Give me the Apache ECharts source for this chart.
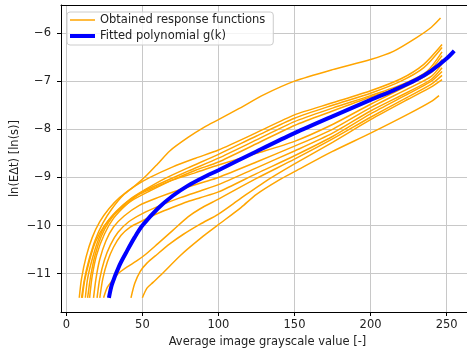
<!DOCTYPE html>
<html>
<head>
<meta charset="utf-8">
<script src="https://cdn.jsdelivr.net/npm/echarts@6/dist/echarts.min.js"></script>
<style>
  html, body { margin: 0; background: #fff; }
  #chart { width: 467px; height: 351px; }
</style>
</head>
<body>
<div id="chart"></div>
<script>
// tick values
const xTicks = [0, 50, 100, 150, 200, 250];
const yTicks = [-11, -10, -9, -8, -7, -6];

// obtained response functions, [grayscale, ln(E*dt)]
const curveA = [[10,-11.5],[12,-11.1],[15,-10.7],[19,-10.3],[24,-9.95],[30,-9.65],[38,-9.35],[46,-9.15],[53,-8.95],[60,-8.72],[68,-8.45],[80,-8.17],[91,-7.95],[100,-7.8],[114,-7.56],[130,-7.28],[150,-7.0],[175,-6.76],[200,-6.55],[215,-6.38],[230,-6.1],[240,-5.88],[246,-5.69]];
const curveU1 = [[8.5,-11.5],[10,-11.1],[13,-10.65],[17,-10.25],[22,-9.92],[28,-9.65],[35,-9.42],[45,-9.18],[55,-9.0],[70,-8.78],[85,-8.6],[100,-8.43],[125,-8.07],[150,-7.7],[175,-7.45],[200,-7.2],[220,-6.95],[235,-6.65],[247,-6.24]];
const curveU2 = [[12.5,-11.5],[14,-11.1],[17,-10.7],[21,-10.3],[26,-9.97],[33,-9.7],[42,-9.45],[52,-9.25],[65,-9.02],[80,-8.8],[100,-8.52],[125,-8.14],[150,-7.77],[175,-7.5],[200,-7.25],[220,-7.0],[235,-6.72],[247,-6.3]];
const curveU3 = [[15.3,-11.5],[17,-11.05],[20,-10.6],[25,-10.18],[31,-9.85],[40,-9.55],[50,-9.3],[65,-9.08],[80,-8.87],[100,-8.6],[125,-8.22],[150,-7.84],[175,-7.56],[200,-7.3],[222,-7.05],[237,-6.8],[247,-6.39]];
const curveU4 = [[10.5,-11.5],[12,-11.15],[15,-10.75],[19,-10.35],[25,-10.0],[32,-9.75],[42,-9.5],[55,-9.28],[70,-9.05],[85,-8.85],[100,-8.68],[125,-8.3],[150,-7.92],[175,-7.62],[200,-7.33],[222,-7.1],[237,-6.85],[247,-6.47]];
const curveL1 = [[14,-11.5],[16,-11.05],[19,-10.6],[23,-10.22],[28,-9.92],[35,-9.65],[45,-9.4],[55,-9.25],[70,-9.05],[85,-8.9],[100,-8.74],[125,-8.5],[150,-8.25],[175,-7.9],[200,-7.48],[225,-7.08],[240,-6.82],[247,-6.55]];
const curveL2 = [[17.9,-11.5],[19.5,-11.1],[22,-10.7],[26,-10.32],[31,-10.03],[38,-9.8],[48,-9.58],[60,-9.42],[75,-9.25],[90,-9.1],[100,-9.0],[125,-8.68],[150,-8.35],[175,-8.0],[200,-7.55],[225,-7.15],[240,-6.9],[247,-6.64]];
const curveL3 = [[20.2,-11.5],[22,-11.1],[25,-10.72],[29,-10.4],[34,-10.14],[41,-9.92],[50,-9.75],[62,-9.58],[75,-9.42],[88,-9.28],[100,-9.15],[125,-8.8],[150,-8.45],[175,-8.08],[200,-7.62],[225,-7.22],[240,-6.96],[247,-6.72]];
const curveL4 = [[22,-11.5],[24,-11.1],[27,-10.75],[31,-10.45],[36,-10.2],[42,-10.03],[50,-9.9],[60,-9.75],[70,-9.62],[80,-9.5],[88,-9.42],[100,-9.3],[125,-8.92],[150,-8.55],[175,-8.15],[200,-7.68],[225,-7.26],[240,-7.0],[247,-6.8]];
const curveL5 = [[24.5,-11.5],[27,-11.28],[30,-11.15],[34,-11.0],[40,-10.86],[46,-10.74],[52,-10.6],[60,-10.38],[70,-10.1],[80,-9.82],[88,-9.65],[100,-9.45],[125,-9.02],[150,-8.62],[175,-8.2],[200,-7.75],[225,-7.32],[240,-7.06],[247,-6.88]];
const curveY = [[42.5,-11.5],[45,-11.2],[48.6,-10.95],[53,-10.78],[59.6,-10.6],[68,-10.38],[77,-10.18],[88,-9.97],[100,-9.76],[114,-9.45],[130,-9.1],[150,-8.72],[175,-8.27],[200,-7.8],[225,-7.37],[240,-7.12],[247,-6.97]];
const curveZ = [[50,-11.5],[53,-11.3],[57,-11.18],[63,-11.0],[75,-10.62],[90,-10.22],[100,-9.98],[115,-9.62],[125,-9.35],[140,-9.05],[150,-8.88],[175,-8.46],[200,-8.08],[225,-7.68],[240,-7.42],[245,-7.3]];
const responseCurves = [curveA, curveU1, curveU2, curveU3, curveU4, curveL1, curveL2, curveL3, curveL4, curveL5, curveY, curveZ];

// fitted polynomial g(k)
const fitted = [[28,-11.5],[30,-11.22],[35,-10.82],[40,-10.52],[45,-10.24],[50,-10.0],[60,-9.65],[70,-9.38],[80,-9.17],[90,-9.0],[100,-8.85],[125,-8.46],[150,-8.08],[175,-7.73],[200,-7.39],[215,-7.19],[230,-6.97],[240,-6.78],[250,-6.53],[255,-6.37]];

const obtainedName = "Obtained response functions";
const fittedName = "Fitted polynomial g(k)";

const chart = echarts.init(document.getElementById("chart"), null, { renderer: "canvas" });

const fmt = (v) => {
  if (Math.abs(v - Math.round(v)) > 1e-6) return "";
  const r = Math.round(v);
  return r < 0 ? "\u2212" + Math.abs(r) : String(r);
};

const font = "DejaVu Sans";
const fontSize = 11.5;

const series = responseCurves.map((c) => ({
  name: obtainedName,
  type: "line",
  data: c,
  symbol: "none",
  smooth: 0.25,
  color: "#ffa500",
  lineStyle: { width: 1.5, color: "#ffa500" },
  z: 2,
}));
series.push({
  name: fittedName,
  type: "line",
  data: fitted,
  symbol: "none",
  smooth: 0.3,
  color: "#0000ff",
  lineStyle: { width: 4, color: "#0000ff" },
  z: 3,
});

chart.setOption({
  animation: false,
  backgroundColor: "#fff",
  grid: {
    left: 61,
    right: -7,
    top: 5,
    bottom: 39,
    outerBoundsMode: "none",
    containLabel: false,
  },
  legend: {
    data: [
      { name: obtainedName, icon: "path://M0,0L50,0L50,3L0,3Z" },
      { name: fittedName, icon: "path://M0,0L25,0L25,4L0,4Z" },
    ],
    orient: "vertical",
    left: 67,
    top: 12,
    itemWidth: 25,
    itemHeight: 14,
    itemGap: 4,
    padding: [2, 8, 3, 3],
    backgroundColor: "rgba(255,255,255,0.8)",
    borderColor: "#cccccc",
    borderWidth: 1,
    borderRadius: 3,
    textStyle: { fontFamily: font, fontSize: fontSize, color: "#222" },
  },
  xAxis: [
    {
      type: "value",
      min: -3.5,
      max: 268,
      name: "Average image grayscale value [-]",
      nameLocation: "middle",
      nameGap: 22,
      nameTextStyle: { fontFamily: font, fontSize: fontSize, color: "#222" },
      axisLine: { show: true, onZero: false, lineStyle: { color: "#000", width: 1 } },
      axisTick: { show: true, length: 4, customValues: xTicks, lineStyle: { color: "#000" } },
      axisLabel: { customValues: xTicks, margin: 7, fontFamily: font, fontSize: fontSize, color: "#222", formatter: fmt },
      splitLine: { show: true, lineStyle: { color: "#c8c8c8", width: 1 } },
    },
    {
      // top spine only
      type: "value",
      position: "top",
      min: -3.5,
      max: 268,
      axisLine: { show: true, onZero: false, lineStyle: { color: "#000", width: 1 } },
      axisTick: { show: false },
      axisLabel: { show: false },
      splitLine: { show: false },
    },
  ],
  yAxis: {
    type: "value",
    min: -11.795,
    max: -5.418,
    name: "ln(E\u0394t) [ln(s)]",
    nameLocation: "middle",
    nameGap: 40,
    nameMoveOverlap: false,
    nameTextStyle: { fontFamily: font, fontSize: fontSize, color: "#222" },
    axisLine: { show: true, onZero: false, lineStyle: { color: "#000", width: 1 } },
    axisTick: { show: true, length: 4, customValues: yTicks, lineStyle: { color: "#000" } },
    axisLabel: { customValues: yTicks, margin: 10, fontFamily: font, fontSize: fontSize, color: "#222", formatter: fmt },
    splitLine: { show: true, lineStyle: { color: "#c8c8c8", width: 1 } },
  },
  series: series,
});
</script>
</body>
</html>
